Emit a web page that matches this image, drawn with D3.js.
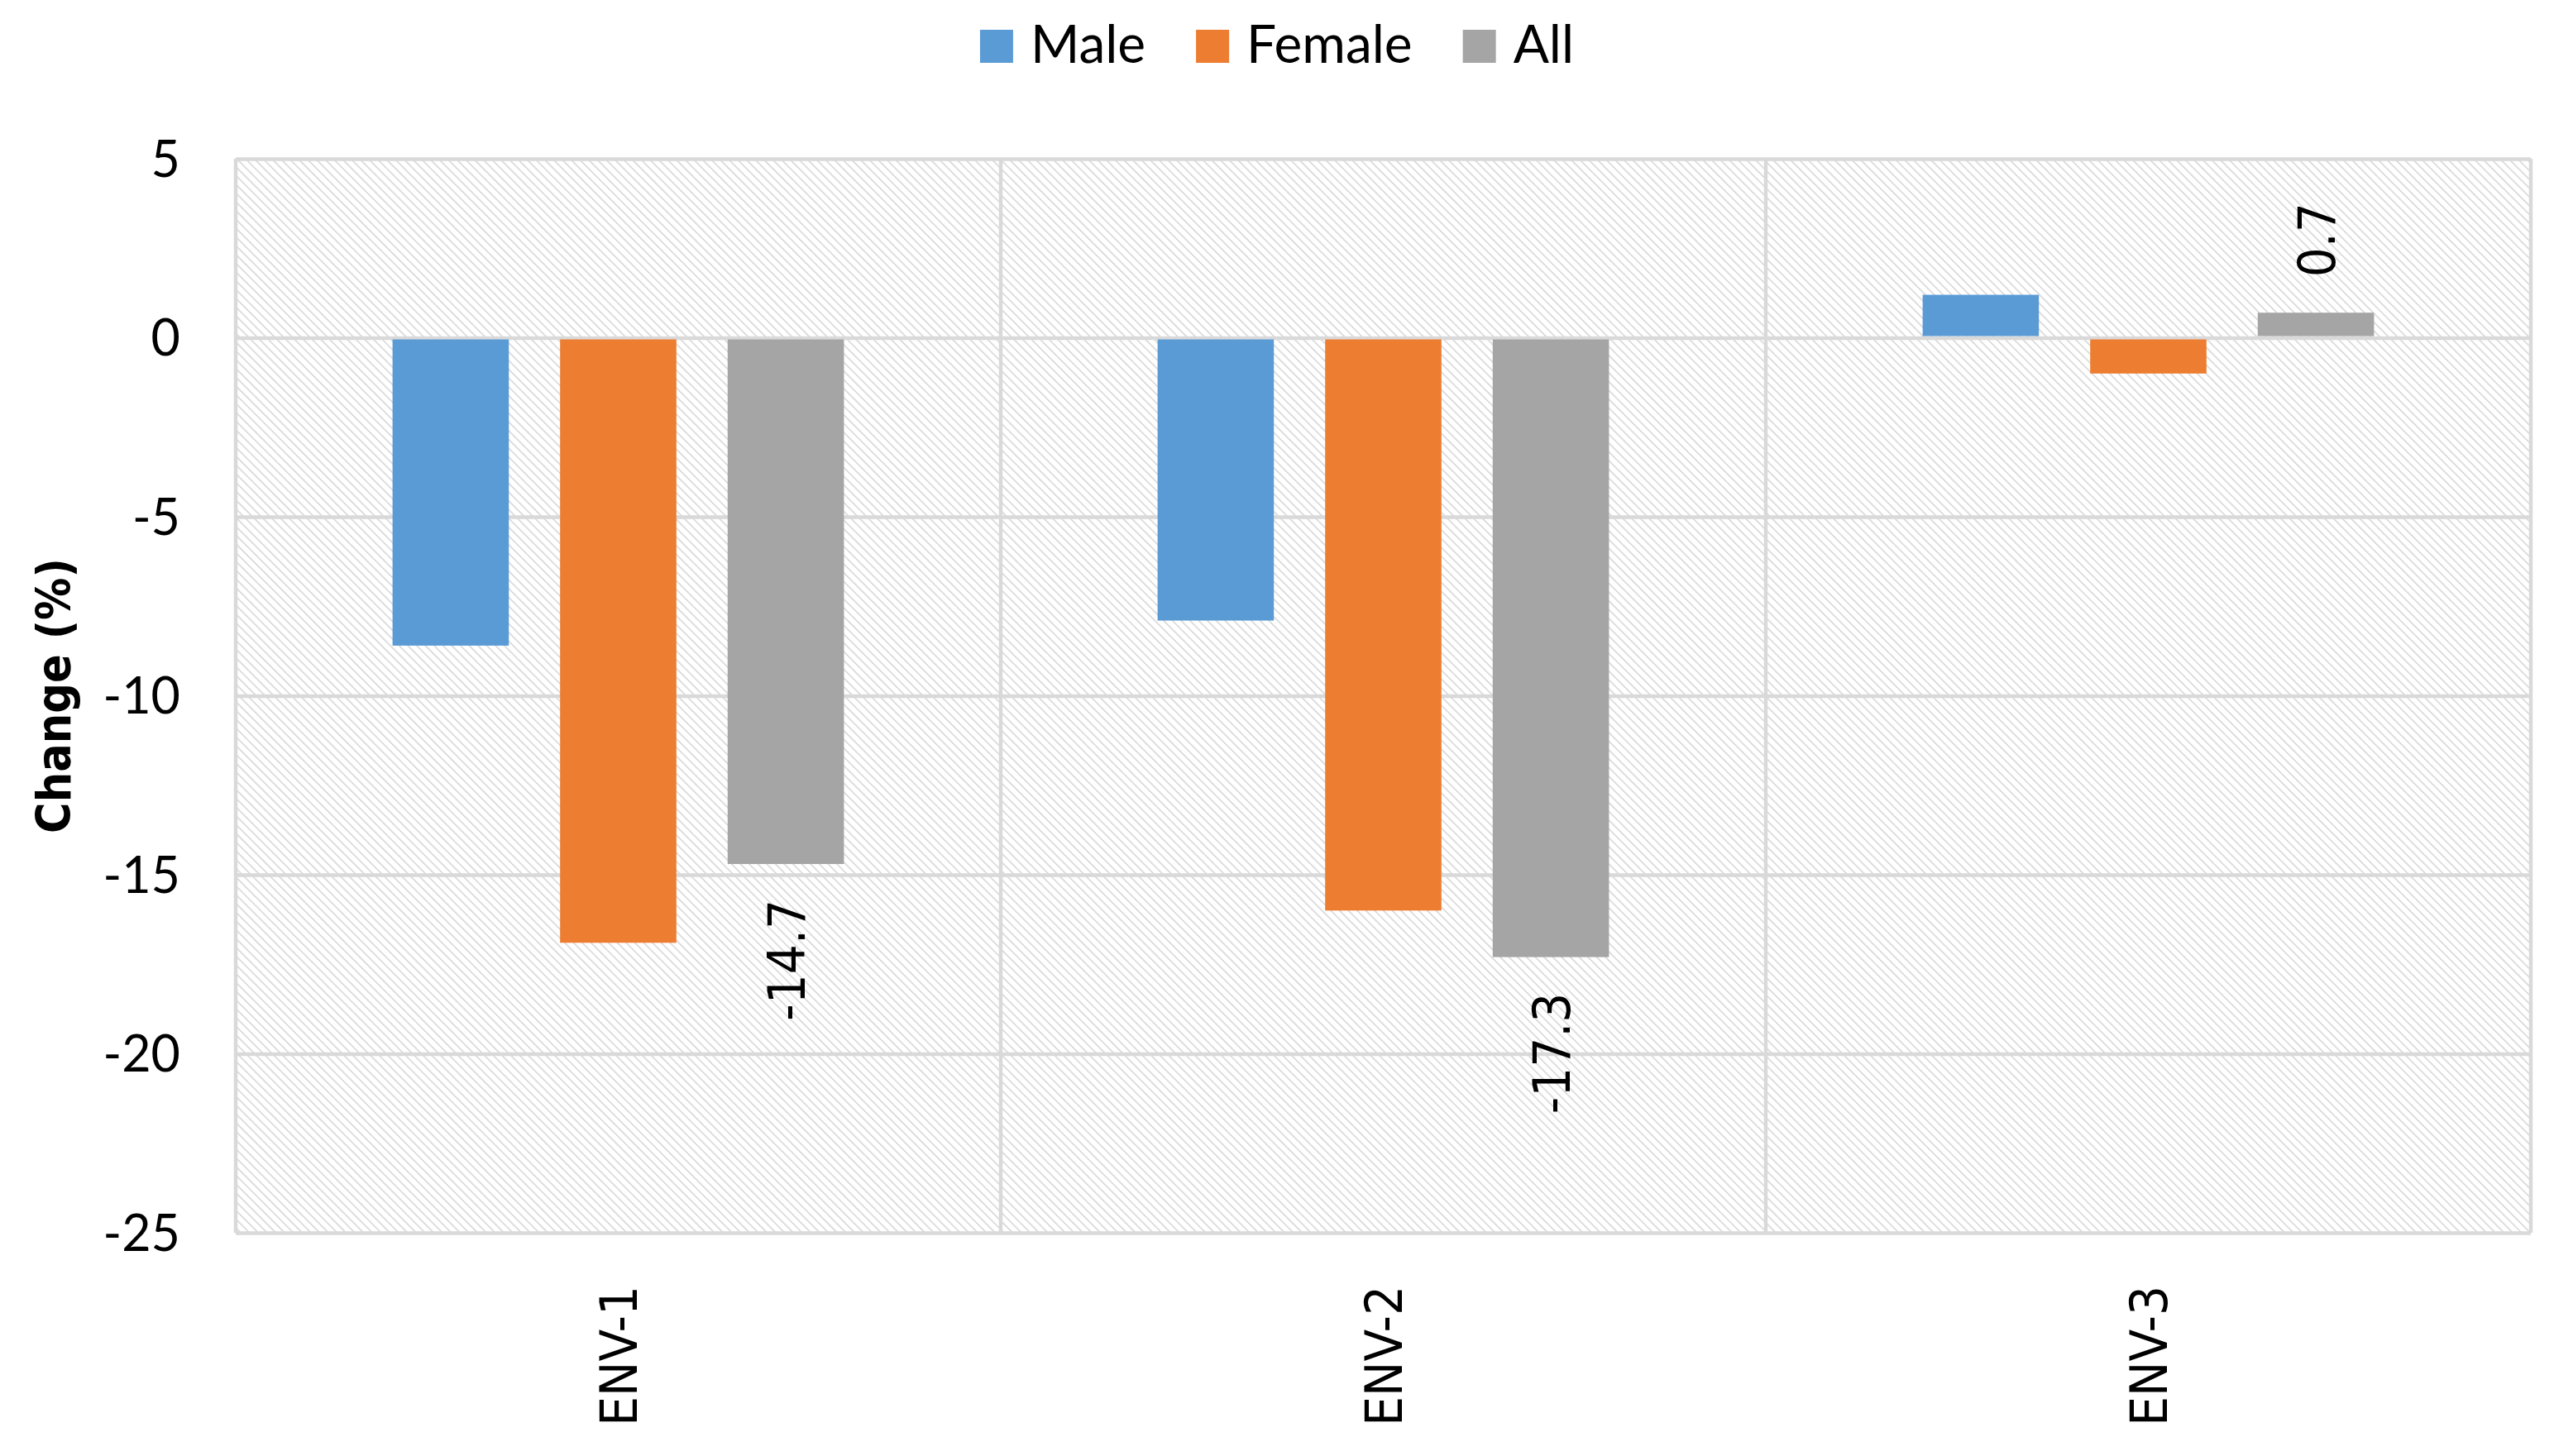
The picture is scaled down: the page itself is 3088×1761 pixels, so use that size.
<!DOCTYPE html>
<html>
<head>
<meta charset="utf-8">
<script src="https://cdn.jsdelivr.net/npm/d3@7"></script>
<style>
  body { margin: 0; background: #fff; }
</style>
</head>
<body>
<script>
// chart data
var categories = ["ENV-1", "ENV-2", "ENV-3"];
var seriesNames = ["Male", "Female", "All"];
var maleValues = [-8.6, -7.9, 1.2];
var femaleValues = [-16.9, -16.0, -1.0];
var allValues = [-14.7, -17.3, 0.7];
var yTicks = [5, 0, -5, -10, -15, -20, -25];
var labelledSeries = "All";

var colors = { "Male": "#5B9BD5", "Female": "#ED7D31", "All": "#A5A5A5" };
var valuesBySeries = { "Male": maleValues, "Female": femaleValues, "All": allValues };

var width = 3088, height = 1761;
var margin = { top: 192, right: 28, bottom: 270, left: 285 };
var innerW = width - margin.left - margin.right,
    innerH = height - margin.top - margin.bottom;

var svg = d3.select("body").append("svg")
    .attr("width", width)
    .attr("height", height)
    .style("display", "block");

svg.append("rect").attr("width", width).attr("height", height).attr("fill", "#fff");

// hatch pattern for the plot background
var defs = svg.append("defs");
var pattern = defs.append("pattern")
    .attr("id", "hatch")
    .attr("patternUnits", "userSpaceOnUse")
    .attr("width", 7.5)
    .attr("height", 7.5)
    .attr("patternTransform", "rotate(-45)");
pattern.append("line")
    .attr("x1", 0).attr("y1", 0)
    .attr("x2", 0).attr("y2", 7.5)
    .attr("stroke", "#d4d4d4")
    .attr("stroke-width", 3);

var g = svg.append("g")
    .attr("transform", "translate(" + margin.left + "," + margin.top + ")");

var x0 = d3.scaleBand().domain(categories).range([0, innerW]).padding(0);
var x1 = d3.scaleBand().domain(seriesNames).range([0, x0.bandwidth()])
    .paddingInner(0.306).paddingOuter(0.936);
var y = d3.scaleLinear().domain([-25, 5]).range([innerH, 0]);

g.append("rect")
    .attr("width", innerW)
    .attr("height", innerH)
    .attr("fill", "url(#hatch)");

// horizontal gridlines
var yAxis = d3.axisLeft(y).tickValues(yTicks).tickSize(-innerW).tickFormat("");
var yGrid = g.append("g").call(yAxis);
yGrid.select(".domain").remove();
yGrid.selectAll(".tick line").attr("stroke", "#d9d9d9").attr("stroke-width", 4.5);

// vertical category separators
var sepPositions = categories.map(function (c) { return x0(c); }).concat([innerW]);
g.selectAll("line.sep")
    .data(sepPositions)
    .enter().append("line")
    .attr("class", "sep")
    .attr("x1", function (d) { return d; })
    .attr("x2", function (d) { return d; })
    .attr("y1", 0)
    .attr("y2", innerH)
    .attr("stroke", "#d9d9d9")
    .attr("stroke-width", 4.5);

// bars
var rows = [];
categories.forEach(function (c, i) {
    seriesNames.forEach(function (s) {
        rows.push({ cat: c, series: s, value: valuesBySeries[s][i] });
    });
});

g.selectAll("rect.bar")
    .data(rows)
    .enter().append("rect")
    .attr("class", "bar")
    .attr("x", function (d) { return x0(d.cat) + x1(d.series); })
    .attr("width", x1.bandwidth())
    .attr("y", function (d) { return d.value >= 0 ? y(d.value) : y(0) + 2; })
    .attr("height", function (d) { return Math.max(0, Math.abs(y(d.value) - y(0)) - 2); })
    .attr("fill", function (d) { return colors[d.series]; });

// data labels (rotated)
var labelFont = "'DejaVu Sans Condensed', 'DejaVu Sans', sans-serif";
g.selectAll("text.dlabel")
    .data(rows.filter(function (d) { return d.series === labelledSeries; }))
    .enter().append("text")
    .attr("class", "dlabel")
    .attr("transform", function (d) {
        var cx = x0(d.cat) + x1(d.series) + x1.bandwidth() / 2;
        var cy = d.value >= 0 ? y(d.value) - 43 : y(d.value) + 43;
        return "translate(" + cx + "," + cy + ") rotate(-90)";
    })
    .attr("text-anchor", function (d) { return d.value >= 0 ? "start" : "end"; })
    .attr("dy", "0.36em")
    .style("font-family", labelFont)
    .style("font-size", "63px")
    .style("fill", "#000")
    .text(function (d) { return d.value.toFixed(1); });

// y tick labels
g.selectAll("text.ytick")
    .data(yTicks)
    .enter().append("text")
    .attr("class", "ytick")
    .attr("x", -67)
    .attr("y", function (d) { return y(d); })
    .attr("dy", "0.36em")
    .attr("text-anchor", "end")
    .style("font-family", "Lato, 'Open Sans', sans-serif")
    .style("font-size", "61px")
    .style("fill", "#000")
    .text(function (d) { return d; });

// category labels
g.selectAll("text.xlabel")
    .data(categories)
    .enter().append("text")
    .attr("class", "xlabel")
    .attr("transform", function (d) {
        return "translate(" + (x0(d) + x0.bandwidth() / 2) + "," + (innerH + 64) + ") rotate(-90)";
    })
    .attr("text-anchor", "end")
    .attr("dy", "0.36em")
    .style("font-family", labelFont)
    .style("font-size", "63px")
    .style("fill", "#000")
    .text(function (d) { return d; });

// y axis title
svg.append("text")
    .attr("transform", "translate(64," + (margin.top + innerH / 2) + ") rotate(-90)")
    .attr("text-anchor", "middle")
    .attr("dy", "0.36em")
    .style("font-family", labelFont)
    .style("font-weight", "bold")
    .style("font-size", "57px")
    .style("fill", "#000")
    .text("Change (%)");

// legend
var legend = svg.append("g");
var xPos = 0;
seriesNames.forEach(function (s, i) {
    var item = legend.append("g").attr("transform", "translate(" + xPos + ",0)");
    item.append("rect")
        .attr("x", 0).attr("y", 36)
        .attr("width", 40).attr("height", 40)
        .attr("fill", colors[s]);
    var t = item.append("text")
        .attr("x", 61)
        .attr("y", 76)
        .style("font-family", "Lato, 'Open Sans', sans-serif")
        .style("font-size", "64px")
        .style("fill", "#000")
        .text(s);
    var w = t.node().getComputedTextLength();
    xPos += 61 + w + (i < seriesNames.length - 1 ? 61 : 0);
});
legend.attr("transform", "translate(" + (width / 2 - xPos / 2) + ",0)");
</script>
</body>
</html>
